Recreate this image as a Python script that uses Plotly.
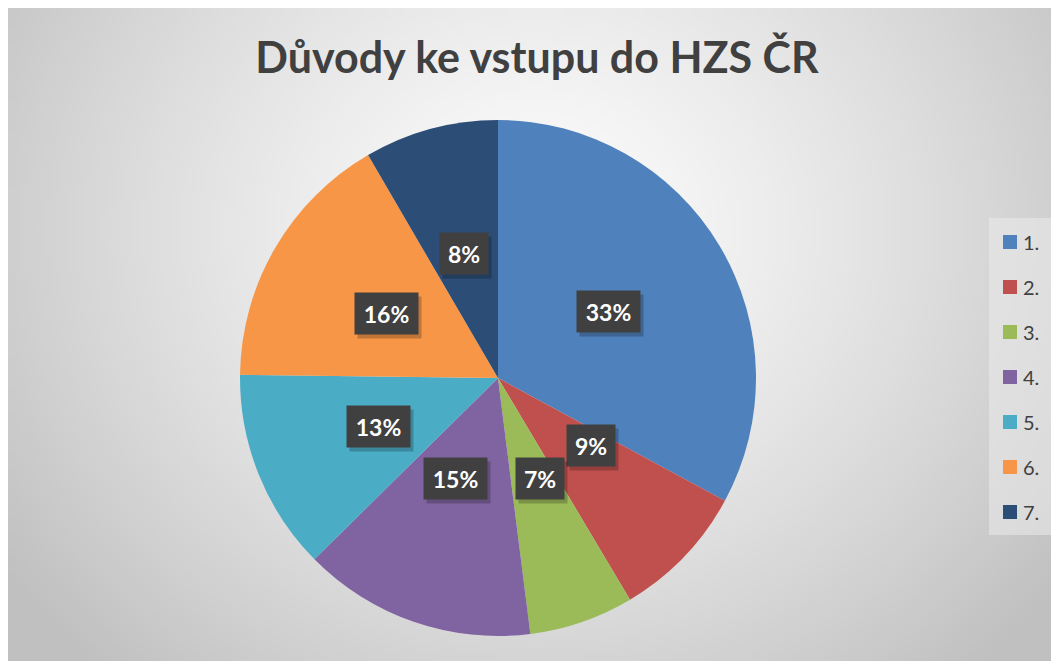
import base64, zlib, struct, math
import plotly.graph_objects as go

# ---- data (shares in %; labels are the rounded values) ----
categories = ["1.", "2.", "3.", "4.", "5.", "6.", "7."]
values = [32.9, 8.55, 6.55, 14.6, 12.6, 16.4, 8.4]
colors = ["#4F81BD", "#C0504D", "#9BBB59", "#8064A2", "#4BACC6", "#F79646", "#2C4D75"]
title_text = "Důvody ke vstupu do HZS ČR"

# ---- geometry (window px; body margin 8px offsets the figure) ----
OFF = 8
FW, FH = 1051, 653
def X(px): return (px - OFF) / FW
def Y(py): return 1 - (py - OFF) / FH

FONT = "Lato"

# ---- radial-ish grey background as an inline PNG ----
def make_png(w, h, func):
    raw = bytearray()
    for j in range(h):
        raw.append(0)
        for i in range(w):
            v = func(i, j)
            raw += bytes((v, v, v))
    def chunk(t, d):
        c = struct.pack('>I', len(d)) + t + d
        return c + struct.pack('>I', zlib.crc32(t + d) & 0xffffffff)
    png = (b'\x89PNG\r\n\x1a\n' + chunk(b'IHDR', struct.pack('>IIBBBBB', w, h, 8, 2, 0, 0, 0))
           + chunk(b'IDAT', zlib.compress(bytes(raw))) + chunk(b'IEND', b''))
    return 'data:image/png;base64,' + base64.b64encode(png).decode()

GW, GH = 210, 130
def grad(i, j):
    px = OFF + (i + 0.5) / GW * FW
    py = OFF + (j + 0.5) / GH * FH
    dx = (px - 537) / 654
    dy = (py - 229) / 595
    d = min(1.0, math.hypot(dx, dy))
    return int(round(252 - 60 * d ** 1.3))

bg = make_png(GW, GH, grad)

dom_x = [X(240), X(756)]
dom_y = [Y(636), Y(120)]

fig = go.Figure(go.Pie(
    labels=categories, values=values, sort=False, direction="clockwise",
    marker=dict(colors=colors, line=dict(width=0)),
    textinfo="none", showlegend=False,
    domain=dict(x=dom_x, y=dom_y),
))

# ---- percentage labels (positions derived from the values) ----
total = sum(values)
cx = (dom_x[0] + dom_x[1]) / 2
cy = (dom_y[0] + dom_y[1]) / 2
R = (dom_x[1] - dom_x[0]) * FW / 2
annotations = []
cum = 0
for v in values:
    mid = (cum + v / 2) / total * 2 * math.pi
    cum += v
    ax = cx + 0.5 * R * math.sin(mid) / FW
    ay = cy + 0.5 * R * math.cos(mid) / FH
    txt = f"{round(v / total * 100)}%"
    bw = 15 * len(txt) + 4
    annotations.append(dict(x=ax, y=ay, xref="paper", yref="paper", text=" ", showarrow=False,
                            width=bw, height=27, font=dict(size=10),
                            bgcolor="rgba(0,0,0,0.22)", borderpad=7, xshift=3, yshift=-4))
    annotations.append(dict(x=ax, y=ay, xref="paper", yref="paper", text=txt, showarrow=False,
                            width=bw, height=27,
                            font=dict(family=FONT, size=23, color="white", weight="bold"),
                            bgcolor="#404040", borderpad=7))

# ---- legend (manual, to get Excel-like spacing) ----
shapes = [dict(type="rect", xref="paper", yref="paper", x0=X(989), x1=X(1052), y0=Y(535), y1=Y(218),
               fillcolor="rgba(235,235,235,0.55)", line=dict(width=0), layer="below")]
for k, (lab, col) in enumerate(zip(categories, colors)):
    yc = 242 + k * 45
    shapes.append(dict(type="rect", xref="paper", yref="paper", x0=X(1003), x1=X(1017),
                       y0=Y(yc + 7), y1=Y(yc - 7), fillcolor=col, line=dict(width=0)))
    annotations.append(dict(x=X(1021), y=Y(yc), xref="paper", yref="paper", text=lab,
                            showarrow=False, xanchor="left", yanchor="middle",
                            font=dict(family=FONT, size=20, color="#404040")))

fig.update_layout(
    width=FW, height=FH, autosize=False,
    margin=dict(l=0, r=0, t=0, b=0),
    paper_bgcolor="white",
    title=dict(text=title_text, x=X(537), y=Y(58), xanchor="center", yanchor="middle",
               font=dict(family=FONT, size=43, color="#404040", weight="bold")),
    images=[dict(source=bg, xref="paper", yref="paper", x=0, y=1, sizex=1, sizey=1,
                 xanchor="left", yanchor="top", sizing="stretch", layer="below")],
    shapes=shapes,
    annotations=annotations,
)

fig.write_html("out.html")
